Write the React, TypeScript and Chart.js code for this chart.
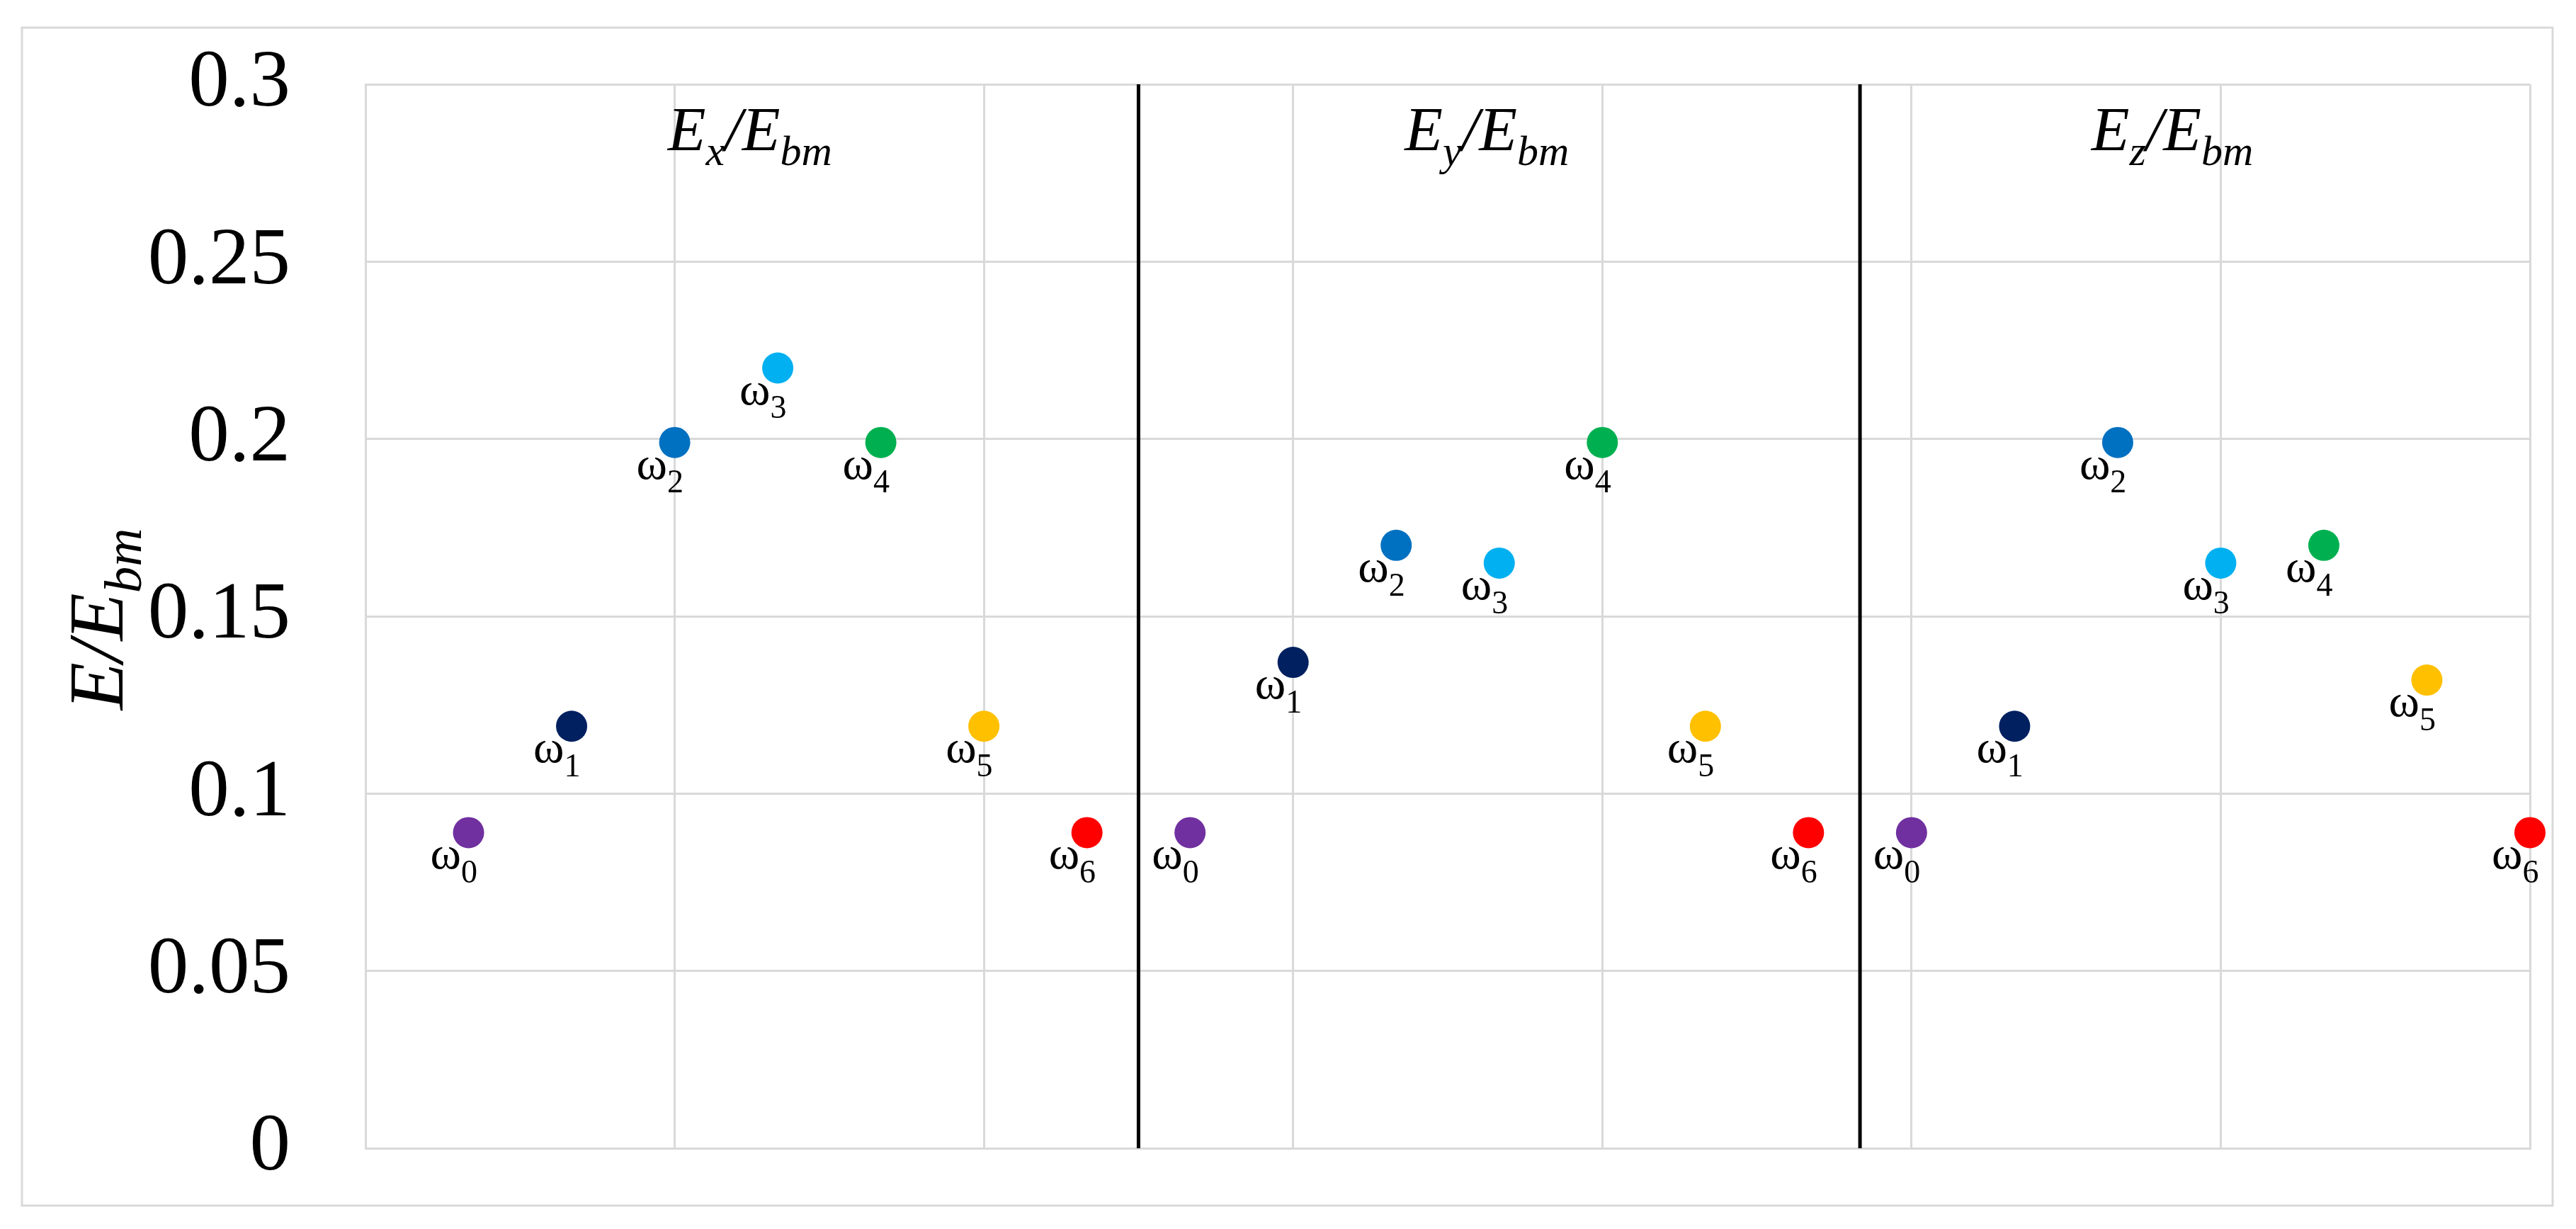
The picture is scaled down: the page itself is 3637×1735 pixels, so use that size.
import React, { useEffect, useRef } from 'react';
import { Chart, registerables } from 'chart.js';

Chart.register(...registerables);

// ---- data ----
const MODE_SUBSCRIPTS = ['0', '1', '2', '3', '4', '5', '6'];
const MODE_COLORS = ['#7030A0', '#002060', '#0070C0', '#00B0F0', '#00B050', '#FFC000', '#FF0000'];
const PANEL_COMPONENTS = ['x', 'y', 'z'];
const EX_VALUES = [0.089, 0.119, 0.199, 0.220, 0.199, 0.119, 0.089];
const EY_VALUES = [0.089, 0.137, 0.170, 0.165, 0.199, 0.119, 0.089];
const EZ_VALUES = [0.089, 0.119, 0.199, 0.165, 0.170, 0.132, 0.089];
const EX_POSITIONS = [1, 2, 3, 4, 5, 6, 7];
const EY_POSITIONS = [8, 9, 10, 11, 12, 13, 14];
const EZ_POSITIONS = [15, 16, 17, 18, 19, 20, 21];
const PANEL_DIVIDERS = [7.5, 14.5];
const PANEL_TITLE_CENTERS = [3.73, 10.88, 17.53];
const Y_TICK_LABELS = ['0', '0.05', '0.1', '0.15', '0.2', '0.25', '0.3'];
const Y_MIN = 0;
const Y_MAX = 0.3;
const Y_STEP = 0.05;
const X_MIN = 0;
const X_MAX = 21;
const X_STEP = 3;

// ---- styles ----
const W = 3637;
const H = 1735;
const SERIF = '"Liberation Serif", "Times New Roman", serif';
const GRID = '#d9d9d9';

type Run = { text: string; sub?: boolean };

function drawRuns(
  ctx: CanvasRenderingContext2D,
  x: number,
  y: number,
  runs: Run[],
  size: number,
  italic: boolean,
  align: 'left' | 'center',
  subRatio = 0.68,
  subShift = 0.24
) {
  const style = italic ? 'italic ' : '';
  const mainFont = `${style}${size}px ${SERIF}`;
  const subFont = `${style}${Math.round(size * subRatio)}px ${SERIF}`;
  let total = 0;
  const widths: number[] = [];
  for (const r of runs) {
    ctx.font = r.sub ? subFont : mainFont;
    const w = ctx.measureText(r.text).width;
    widths.push(w);
    total += w;
  }
  let cx = align === 'center' ? x - total / 2 : x;
  ctx.textAlign = 'left';
  ctx.textBaseline = 'alphabetic';
  ctx.fillStyle = '#000';
  runs.forEach((r, i) => {
    ctx.font = r.sub ? subFont : mainFont;
    ctx.fillText(r.text, cx, r.sub ? y + size * subShift : y);
    cx += widths[i];
  });
}

const decorPlugin = {
  id: 'decor',
  beforeDraw(chart: any) {
    const { ctx } = chart;
    ctx.save();
    ctx.fillStyle = '#fff';
    ctx.fillRect(0, 0, chart.width, chart.height);
    ctx.strokeStyle = GRID;
    ctx.lineWidth = 3;
    ctx.strokeRect(31, 39, 3573, 1663);
    ctx.restore();
  },
  beforeDatasetsDraw(chart: any) {
    const { ctx, chartArea, scales } = chart;
    ctx.save();
    ctx.strokeStyle = '#000';
    ctx.lineWidth = 5;
    PANEL_DIVIDERS.forEach((v) => {
      const px = scales.x.getPixelForValue(v);
      ctx.beginPath();
      ctx.moveTo(px, chartArea.top);
      ctx.lineTo(px, chartArea.bottom);
      ctx.stroke();
    });
    ctx.restore();
  },
  afterDatasetsDraw(chart: any) {
    const { ctx, chartArea, scales } = chart;
    ctx.save();
    // point labels
    chart.data.datasets.forEach((ds: any, di: number) => {
      const meta = chart.getDatasetMeta(di);
      meta.data.forEach((el: any) => {
        drawRuns(ctx, el.x - 54, el.y + 51, [{ text: 'ω' }, { text: MODE_SUBSCRIPTS[di], sub: true }], 66, false, 'left', 0.7, 0.3);
      });
    });
    // panel titles
    PANEL_COMPONENTS.forEach((c, i) => {
      const px = scales.x.getPixelForValue(PANEL_TITLE_CENTERS[i]);
      drawRuns(
        ctx,
        px,
        chartArea.top + 93,
        [{ text: 'E' }, { text: c, sub: true }, { text: '/E' }, { text: 'bm', sub: true }],
        88,
        true,
        'center'
      );
    });
    // y axis title
    ctx.translate(173, (chartArea.top + chartArea.bottom) / 2 + 4);
    ctx.rotate(-Math.PI / 2);
    drawRuns(ctx, 0, 0, [{ text: 'E/E' }, { text: 'bm', sub: true }], 110, true, 'center');
    ctx.restore();
  },
};

export default function App() {
  const ref = useRef<HTMLCanvasElement | null>(null);

  useEffect(() => {
    if (!ref.current) return;
    const datasets = MODE_SUBSCRIPTS.map((s, m) => ({
      label: 'ω' + s,
      data: [
        { x: EX_POSITIONS[m], y: EX_VALUES[m] },
        { x: EY_POSITIONS[m], y: EY_VALUES[m] },
        { x: EZ_POSITIONS[m], y: EZ_VALUES[m] },
      ],
      backgroundColor: MODE_COLORS[m],
      borderColor: MODE_COLORS[m],
      borderWidth: 0,
      pointRadius: 22,
      pointHoverRadius: 22,
      showLine: false,
      clip: false as any,
    }));

    const chart = new Chart(ref.current, {
      type: 'scatter',
      data: { datasets },
      options: {
        animation: false,
        responsive: false,
        devicePixelRatio: 1,
        events: [],
        layout: { padding: { left: 0, top: 119, right: 65, bottom: 114 } },
        plugins: { legend: { display: false }, tooltip: { enabled: false }, title: { display: false } },
        scales: {
          x: {
            type: 'linear',
            min: X_MIN,
            max: X_MAX,
            ticks: { display: false, stepSize: X_STEP },
            grid: { color: GRID, lineWidth: 3, drawTicks: false },
            border: { display: true, color: GRID, width: 3 },
            afterFit: (scale: any) => {
              scale.height = 0;
              scale.paddingLeft = 0;
              scale.paddingRight = 0;
            },
          },
          y: {
            type: 'linear',
            min: Y_MIN,
            max: Y_MAX,
            ticks: {
              stepSize: Y_STEP,
              padding: 106,
              color: '#000',
              font: { family: SERIF, size: 115 },
              callback: (v: any) => {
                const idx = Math.round((Number(v) - Y_MIN) / Y_STEP);
                return Y_TICK_LABELS[idx] ?? '';
              },
            },
            grid: { color: GRID, lineWidth: 3, drawTicks: false },
            border: { display: true, color: GRID, width: 3 },
            afterFit: (scale: any) => {
              scale.width = 516;
              scale.paddingTop = 0;
              scale.paddingBottom = 0;
            },
          },
        },
      },
      plugins: [decorPlugin],
    });
    return () => chart.destroy();
  }, []);

  return (
    <div style={{ position: 'absolute', left: 0, top: 0, width: W, height: H, background: '#fff' }}>
      <canvas ref={ref} width={W} height={H} style={{ display: 'block', width: W, height: H }} />
    </div>
  );
}
